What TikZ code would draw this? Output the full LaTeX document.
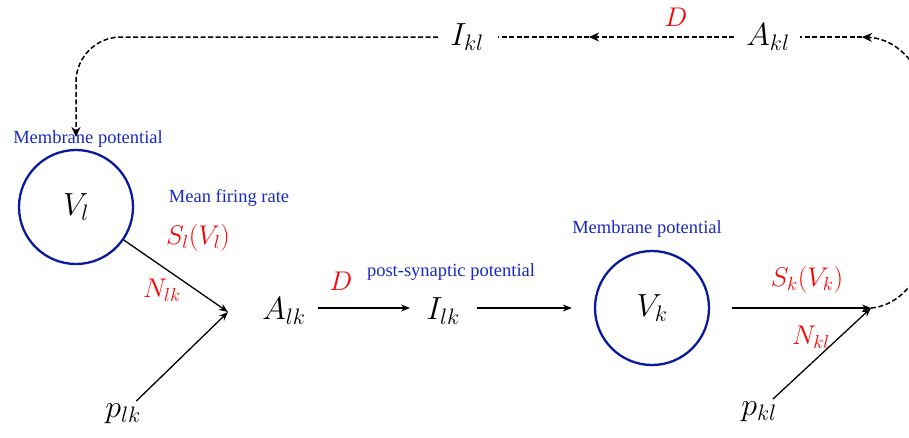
\RequirePackage{fix-cm}
\documentclass[tikz,border=0pt]{standalone}
\usepackage{fontspec}
\newfontfamily\bluefont{Liberation Serif}
\usetikzlibrary{arrows.meta}
\definecolor{cblue}{RGB}{10,25,160}
\definecolor{tblue}{RGB}{25,40,200}
\definecolor{cred}{RGB}{255,0,0}
\begin{document}
\begin{tikzpicture}[x=1pt,y=-1pt,
  var/.style={font=\fontsize{32}{36}\selectfont, inner sep=0pt},
  redlab/.style={text=cred, font=\fontsize{27}{30}\selectfont, inner sep=0pt},
  bluelab/.style={text=tblue, font=\bluefont\fontsize{18.5}{20}\selectfont, inner sep=0pt},
  neuron/.style={circle, draw=cblue, line width=2.3pt, minimum size=114pt, inner sep=0pt, font=\fontsize{32}{36}\selectfont},
  arr/.style={-{Stealth[length=9pt,width=7pt]}, line width=1.3pt},
  dsh/.style={dash pattern=on 5pt off 2.5pt, line width=1.5pt},
  dsharr/.style={dsh, -{Stealth[length=10pt,width=9pt]}}
  ]
\useasboundingbox (0,0) rectangle (909,437);

% neurons
\node[neuron] (Vl) at (76,207) {$V_l$};
\node[neuron] (Vk) at (652,308) {$V_k$};

% variables
\node[var] (Alk) at (284,311) {$A_{lk}$};
\node[var] (Ilk) at (443,311) {$I_{lk}$};
\node[var] (plk) at (123,414) {$p_{lk}$};
\node[var] (pkl) at (759,412) {$p_{kl}$};
\node[var] (Akl) at (768,37) {$A_{kl}$};
\node[var] (Ikl) at (467,37) {$I_{kl}$};

% junction coordinates
\coordinate (jl) at (228,312);
\coordinate (jk) at (871,308);
\coordinate (ctop) at (862,37);
\coordinate (cmid) at (589,37);
\coordinate (ccorner) at (76,37);
\coordinate (vtop) at (76,137);

% labels
\node[bluelab] (mp1) at (88,139) {Membrane potential};
\node[bluelab] (mfr) at (229,198) {Mean firing rate};
\node[bluelab] (psp) at (451,272) {post-synaptic potential};
\node[bluelab] (mp2) at (647,229) {Membrane potential};
\node[redlab] (Sl) at (198,238) {$S_l(V_l)$};
\node[redlab] (Nlk) at (162,290) {$N_{lk}$};
\node[redlab] (D1) at (341,281) {$D$};
\node[redlab] (Sk) at (807,280) {$S_k(V_k)$};
\node[redlab] (Nkl) at (811,337) {$N_{kl}$};
\node[redlab] (D2) at (676,17) {$D$};

% solid connectors
\draw[arr] (Vl) -- (jl);
\draw[arr, shorten <=4pt] (plk) -- (jl);
\draw[arr, shorten <=12pt, shorten >=16pt] (Alk.east |- Vk) -- (Ilk.west |- Vk);
\draw[arr, shorten <=17pt, shorten >=22pt] (Ilk.east |- Vk) -- (Vk.west);
\draw[arr, shorten <=22pt] (Vk.east) -- (jk);
\draw[arr, shorten <=4pt] (pkl) -- (jk);

% dashed feedback
\draw[dsharr] (jk) .. controls (965,300) and (965,42) .. (ctop);
\draw[dsh, shorten >=10pt] (ctop) -- (Akl.east |- ctop);
\draw[dsharr, shorten <=12pt] (Akl.west |- ctop) -- (cmid);
\draw[dsh, shorten >=14pt] (cmid) -- (Ikl.east |- cmid);
\draw[dsharr, rounded corners=45pt, shorten <=12pt] (Ikl.west |- ccorner) -- (ccorner) -- (vtop);
\end{tikzpicture}
\end{document}
